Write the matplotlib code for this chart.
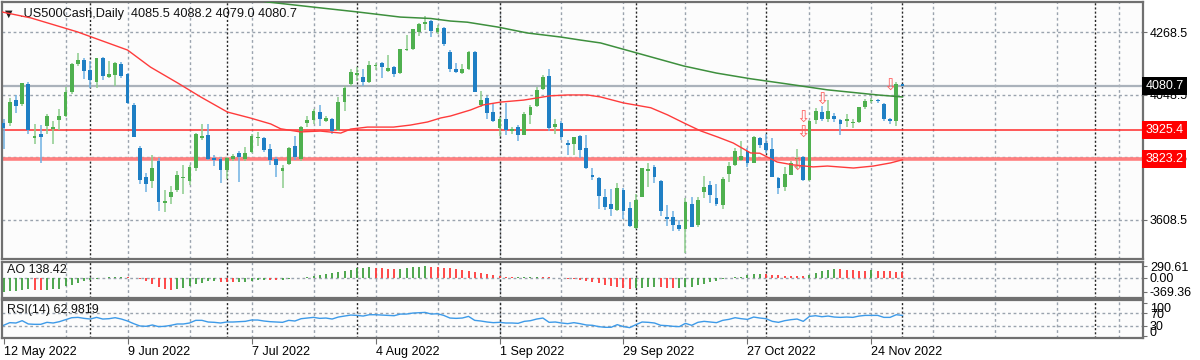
import numpy as np
import pandas as pd
import matplotlib
matplotlib.use("Agg")
import matplotlib.pyplot as plt
from matplotlib.transforms import blended_transform_factory, ScaledTranslation

plt.rcParams['font.family'] = ['Liberation Sans', 'DejaVu Sans']

# --- Data ---
dates = pd.bdate_range('2022-05-12', '2022-12-01')

opens = [3949, 3950, 4030, 4015, 4085, 3897, 3912, 3938, 3930, 3960,
         3975, 4060, 4158, 4172, 4135, 4092, 4178, 4112, 4118, 4158,
         4120, 4012, 3862, 3760, 3745, 3815, 3668, 3690, 3712, 3755,
         3745, 3790, 3898, 3907, 3825, 3822, 3785, 3822, 3845, 3823,
         3848, 3895, 3895, 3858, 3822, 3782, 3805, 3870, 3822, 3948,
         3960, 3988, 3958, 3962, 3925, 4025, 4088, 4118, 4112, 4092,
         4150, 4160, 4133, 4145, 4125, 4205, 4210, 4268, 4298, 4308,
         4270, 4283, 4200, 4140, 4125, 4140, 4200, 4013, 4037, 3988,
         3932, 3965, 3922, 3935, 3908, 3978, 4010, 4070, 4115, 3935,
         3948, 3880, 3875, 3905, 3860, 3765, 3755, 3690, 3665, 3645,
         3715, 3650, 3580, 3690, 3780, 3795, 3745, 3620, 3620, 3590,
         3577, 3665, 3590, 3705, 3730, 3685, 3660, 3770, 3800, 3820,
         3850, 3810, 3898, 3880, 3858, 3755, 3725, 3768, 3822, 3830,
         3750, 3960, 3988, 3965, 3975, 3960, 3955, 3948, 3952, 4004,
         4027, 4032, 4015, 3962, 3958, 4085.5]
highs = [3965, 4039, 4047, 4091, 4095, 3946, 3943, 3982, 3956, 3999,
         4075, 4159, 4195, 4178, 4167, 4178, 4180, 4169, 4165, 4164,
         4125, 4020, 3870, 3775, 3838, 3825, 3712, 3728, 3780, 3802,
         3803, 3914, 3945, 3946, 3837, 3830, 3830, 3840, 3850, 3864,
         3911, 3919, 3900, 3874, 3830, 3800, 3865, 3902, 3940, 3974,
         3999, 4012, 3975, 3966, 4040, 4079, 4140, 4145, 4140, 4168,
         4161, 4163, 4187, 4150, 4211, 4258, 4281, 4302, 4325, 4312,
         4293, 4286, 4205, 4160, 4157, 4203, 4203, 4063, 4045, 4015,
         3970, 4018, 3935, 3943, 3988, 4011, 4077, 4119, 4140, 3962,
         3956, 3890, 3900, 3908, 3907, 3790, 3760, 3716, 3718, 3737,
         3720, 3672, 3698, 3792, 3807, 3800, 3750, 3662, 3641, 3608,
         3685, 3690, 3690, 3763, 3745, 3736, 3758, 3811, 3863, 3886,
         3860, 3905, 3900, 3912, 3895, 3760, 3796, 3814, 3859, 3833,
         3960, 4002, 4009, 4029, 3983, 3962, 3980, 3962, 4006, 4034,
         4036, 4034, 4020, 3966, 4092, 4088.2]
lows = [3859, 3940, 3984, 4010, 3911, 3876, 3810, 3909, 3875, 3925,
        3970, 4050, 4150, 4105, 4074, 4074, 4099, 4109, 4080, 4107,
        4017, 3900, 3734, 3708, 3722, 3640, 3637, 3666, 3705, 3700,
        3730, 3780, 3889, 3820, 3799, 3739, 3752, 3815, 3742, 3817,
        3845, 3869, 3847, 3802, 3759, 3721, 3800, 3818, 3815, 3936,
        3947, 3939, 3953, 3911, 3920, 3993, 4079, 4096, 4080, 4090,
        4135, 4107, 4129, 4112, 4120, 4201, 4205, 4257, 4278, 4253,
        4262, 4219, 4130, 4124, 4120, 4135, 4057, 4005, 3965, 3954,
        3904, 3906, 3910, 3887, 3906, 3945, 4005, 4065, 3921, 3912,
        3889, 3837, 3838, 3827, 3789, 3749, 3648, 3645, 3623, 3641,
        3610, 3584, 3576, 3688, 3723, 3739, 3621, 3588, 3568, 3570,
        3492, 3583, 3585, 3687, 3667, 3656, 3647, 3742, 3799, 3815,
        3795, 3808, 3863, 3844, 3759, 3698, 3709, 3765, 3786, 3744,
        3745, 3945, 3956, 3953, 3954, 3907, 3936, 3933, 3950, 3999,
        4020, 4021, 3956, 3945, 3939, 4079.0]
closes = [3932, 4022, 4008, 4089, 3924, 3902, 3901, 3974, 3937, 3975,
          4058, 4158, 4170, 4132, 4101, 4177, 4115, 4120, 4160, 4116,
          4018, 3901, 3750, 3736, 3790, 3670, 3675, 3706, 3765, 3760,
          3796, 3912, 3902, 3822, 3819, 3785, 3825, 3832, 3831, 3845,
          3903, 3900, 3856, 3819, 3802, 3790, 3863, 3831, 3937, 3960,
          3990, 3962, 3967, 3921, 4024, 4072, 4130, 4125, 4092, 4155,
          4153, 4145, 4142, 4122, 4210, 4208, 4280, 4297, 4305, 4274,
          4284, 4228, 4138, 4129, 4141, 4199, 4058, 4031, 3986, 3955,
          3962, 3924, 3930, 3908, 3980, 4006, 4067, 4110, 3933, 3946,
          3901, 3873, 3900, 3856, 3790, 3758, 3693, 3655, 3647, 3719,
          3640, 3586, 3678, 3791, 3786, 3760, 3640, 3612, 3589, 3577,
          3670, 3583, 3678, 3725, 3695, 3666, 3753, 3797, 3850, 3835,
          3807, 3901, 3872, 3856, 3760, 3720, 3771, 3807, 3828, 3749,
          3956, 3993, 3965, 3992, 3962, 3947, 3965, 3952, 4004, 4027,
          4032, 4026, 3964, 3958, 4087, 4080.7]

# moving averages, read at sample bars (bar index, price)
ma_red_idx = [-0.5, 4.4, 11.9, 20, 23.7, 28.1, 31.8, 36.1, 39.8, 43.1, 44.7, 47.9,
              51.1, 54.4, 56, 58.7, 62.9, 65.6, 68.4, 70.5, 72.1, 75.3, 77.4, 80.2,
              83.9, 88.2, 91, 94.2, 96.3, 100, 104.4, 107.1, 109.7, 112.4, 115.2,
              117.7, 120.5, 122, 124.8, 127.4, 130.6, 132.9, 137.1, 140.3, 143.1, 145]
ma_red_val = [4341, 4319, 4270, 4206, 4146, 4090, 4041, 3988, 3967, 3946, 3929, 3918,
              3921, 3914, 3928, 3935, 3935, 3942, 3953, 3967, 3974, 3995, 4013, 4023,
              4030, 4045, 4048, 4048, 4041, 4020, 4003, 3978, 3950, 3922, 3900,
              3879, 3844, 3843, 3812, 3802, 3795, 3798, 3791, 3798, 3809, 3820]
ma_green_idx = [30, 42.6, 50, 57.1, 64, 68.9, 72.1, 74.8, 79.7, 84.5, 89.8, 93.1,
                96.3, 101.6, 109.7, 115, 120.5, 126, 132.9, 141, 145]
ma_green_val = [4420, 4375, 4357, 4340, 4322, 4317, 4308, 4304, 4287, 4266, 4252, 4241,
                4231, 4199, 4150, 4125, 4105, 4088, 4066, 4048, 4041]

# Awesome Oscillator, one value per bar
ao = [-369.36, -355, -340, -330, -310, -318, -335, -325, -300, -295,
      -220, -200, -140, -85, -50, -25, -8, 5, 8, 10,
      6, -5, -40, -96, -176, -256, -296, -320, -290, -260,
      -220, -176, -136, -100, -90, -110, -120, -125, -115, -105,
      -90, -70, -50, -55, -60, -50, -35, -18, -5, 20,
      45, 70, 95, 120, 140, 165, 200, 240, 260, 270,
      262, 250, 235, 225, 230, 245, 265, 280, 290.61, 285,
      275, 260, 240, 215, 195, 180, 150, 120, 90, 60,
      35, 15, 5, 8, 15, 20, 25, 15, 5, -5,
      -15, -30, -45, -70, -95, -120, -150, -185, -215, -240,
      -262, -290, -280, -262, -248, -240, -250, -262, -268, -260,
      -250, -235, -192, -160, -112, -80, -32, -12, 4, 20,
      64, 100, 104, 95, 80, 62, 55, 48, 40, 35,
      60, 110, 160, 195, 225, 215, 205, 195, 185, 175,
      190, 180, 170, 160, 150, 138.42]

# RSI(14), one value per bar
rsi = [33, 41, 40, 47, 37, 36, 36, 42, 40, 44,
       50, 56, 57, 54, 52, 57, 52, 53, 56, 52,
       46, 38, 31, 30, 34, 29, 30, 33, 37, 37,
       40, 48, 48, 43, 42, 40, 43, 43, 44, 45,
       49, 49, 46, 44, 43, 42, 48, 46, 53, 55,
       57, 54, 55, 52, 58, 61, 64, 63, 61, 65,
       65, 64, 63, 62, 67, 67, 70, 71, 72, 67,
       68, 63, 55, 54, 55, 60, 48, 46, 43, 41,
       42, 40, 40, 39, 45, 47, 52, 55, 42, 43,
       40, 38, 41, 38, 34, 33, 29, 27, 27, 35,
       29, 26, 35, 43, 42, 40, 33, 32, 30, 29,
       39, 33, 42, 45, 43, 41, 48, 51, 56, 53,
       51, 58, 55, 53, 45, 42, 47, 50, 52, 45,
       60, 62, 59, 61, 58, 57, 58, 57, 61, 63,
       63, 63, 57, 57, 65, 62.9819]

# levels and signal arrows
bid_price = 4080.7
level_prices = [3925.4, 3823.2]
arrow_idx = [128, 129, 129, 132, 143]
arrow_price = [3796, 3913, 3966, 4030, 4080]

price_ticks = [3608.5, 3828.5, 4048.5, 4268.5]

# --- Figure layout in pixels ---
W, H = 1200, 360
fig = plt.figure(figsize=(W / 100, H / 100), dpi=100, facecolor='white')


def px_axes(x0, y0, x1, y1):
    return fig.add_axes([x0 / W, 1 - y1 / H, (x1 - x0) / W, (y1 - y0) / H])


ax = px_axes(2, 2, 1143, 259)
ax_ao = px_axes(2, 262, 1143, 297.5)
ax_rsi = px_axes(2, 299.5, 1143, 337.5)

n = len(closes)
x = np.arange(n)
o = np.array(opens, float)
c = np.array(closes, float)
hi = np.array(highs, float)
lo = np.array(lows, float)
up = c >= o

XMIN, XMAX = -0.25, 183.8
BG = '#fcfcfc'
GRID = '#9aa3ae'
SEP = '#262626'
FRAME = '#707070'

month_sep = [i for i in range(1, n) if dates[i].month != dates[i - 1].month] + [176]

for a in (ax, ax_ao, ax_rsi):
    a.set_facecolor(BG)
    a.set_xlim(XMIN, XMAX)
    for s in a.spines.values():
        s.set_color(FRAME)
        s.set_linewidth(1.6)
    for g in range(10, 190, 10):
        a.axvline(g, color=GRID, lw=1, ls=(0, (2, 2)), zorder=0)
    for m in month_sep:
        a.axvline(m, color=SEP, lw=1, ls=(0, (1.5, 1.5)), zorder=0.5)
    a.tick_params(axis='both', length=3, color=FRAME, labelsize=9, pad=2)
    a.yaxis.tick_right()
    a.set_xticks([])


def shift_labels(a, offsets_px):
    # nudge tick labels up/down the way the terminal stacks them
    for lab, dy in zip(a.get_yticklabels(), offsets_px):
        lab.set_transform(lab.get_transform() + ScaledTranslation(0, -dy / 100, fig.dpi_scale_trans))


# --- Main panel ---
ax.set_ylim(3471, 4375)
for p in price_ticks:
    ax.axhline(p, color=GRID, lw=1, ls=(0, (2, 2)), zorder=0)
ax.set_yticks(price_ticks)
ax.set_yticklabels([f"{p:.1f}" for p in price_ticks])

ax.axhline(bid_price, color='#aab2bb', lw=1.6, zorder=1)
ax.axhline(level_prices[0], color='#ff2a2a', lw=1.1, zorder=1)
ax.axhline(level_prices[1], color='#ff7f7f', lw=2.6, zorder=1)

wick_col = np.where(up, '#8ccd8c', '#6fb1e2')
body_col = np.where(up, '#4fb04f', '#1f7fc4')
ax.vlines(x, lo, hi, colors=wick_col, lw=1.1, zorder=2)
body_h = np.maximum(np.abs(c - o), 2.5)
ax.bar(x, body_h, bottom=np.minimum(o, c), width=0.62, color=body_col,
       linewidth=0, zorder=3)

ax.plot(ma_red_idx, ma_red_val, color='#ff3b3b', lw=1, zorder=4)
ax.plot(ma_green_idx, ma_green_val, color='#3d8f3d', lw=1.1, zorder=4)

for ai, ap in zip(arrow_idx, arrow_price):
    ax.text(ai, ap, '\u21e9', color='#ff5c5c', fontsize=11.5, ha='center', va='center',
            family=['DejaVu Sans'], zorder=5)

ax.text(0.003, 0.955, '\u25bc', transform=ax.transAxes, fontsize=7, color='#222222',
        va='center', ha='left', family=['DejaVu Sans'])
ax.text(0.016, 0.955, '.US500Cash,Daily  4085.5 4088.2 4079.0 4080.7',
        transform=ax.transAxes, fontsize=9.2, color='#111111', va='center', ha='left')

tr = blended_transform_factory(ax.transAxes, ax.transData)
ax.text(1.002, bid_price, f"{bid_price:.1f}", transform=tr, color='white', fontsize=9,
        va='center', ha='left', clip_on=False, zorder=6,
        bbox=dict(boxstyle='square,pad=0.25', fc='black', ec='none'))
for lp in level_prices:
    ax.text(1.002, lp, f"{lp:.1f}", transform=tr, color='white', fontsize=9,
            va='center', ha='left', clip_on=False, zorder=6,
            bbox=dict(boxstyle='square,pad=0.25', fc='#ff0000', ec='none'))

# --- AO panel ---
ao_arr = np.array(ao, float)
ao_up = np.r_[True, ao_arr[1:] >= ao_arr[:-1]]
ax_ao.set_ylim(-520, 408)
ax_ao.axhline(0, color=GRID, lw=1, ls=(0, (2, 2)), zorder=0)
ax_ao.vlines(x, 0, ao_arr, colors=np.where(ao_up, '#3f9f3f', '#ff3a3a'), lw=1.3, zorder=2)
ax_ao.set_yticks([290.61, 0, -369.36])
ax_ao.set_yticklabels(['290.61', '0.00', '-369.36'])
ax_ao.text(0.004, 0.77, f"AO {ao[-1]:.2f}", transform=ax_ao.transAxes, fontsize=9,
           va='center', ha='left', color='#111111')

# --- RSI panel ---
ax_rsi.set_ylim(-3.8, 111)
for lv in (70, 30):
    ax_rsi.axhline(lv, color=GRID, lw=1, ls=(0, (2, 2)), zorder=0)
ax_rsi.plot(x, rsi, color='#3d9ae8', lw=1, zorder=2)
ax_rsi.set_yticks([100, 70, 30, 0])
ax_rsi.set_yticklabels(['100', '70', '30', '0'])
shift_labels(ax_rsi, [4.5, 0.5, -1, -5])
ax_rsi.text(0.004, 0.72, f"RSI(14) {rsi[-1]:.4f}", transform=ax_rsi.transAxes, fontsize=9,
            va='center', ha='left', color='#111111')

lab_idx = list(range(0, n, 20))
ax_rsi.set_xticks(lab_idx)
ax_rsi.set_xticklabels([f"{dates[i].day} {dates[i]:%b %Y}" for i in lab_idx], ha='left')
ax_rsi.tick_params(axis='x', length=4, pad=2)

fig.savefig('out.png', dpi=100, facecolor='white')
